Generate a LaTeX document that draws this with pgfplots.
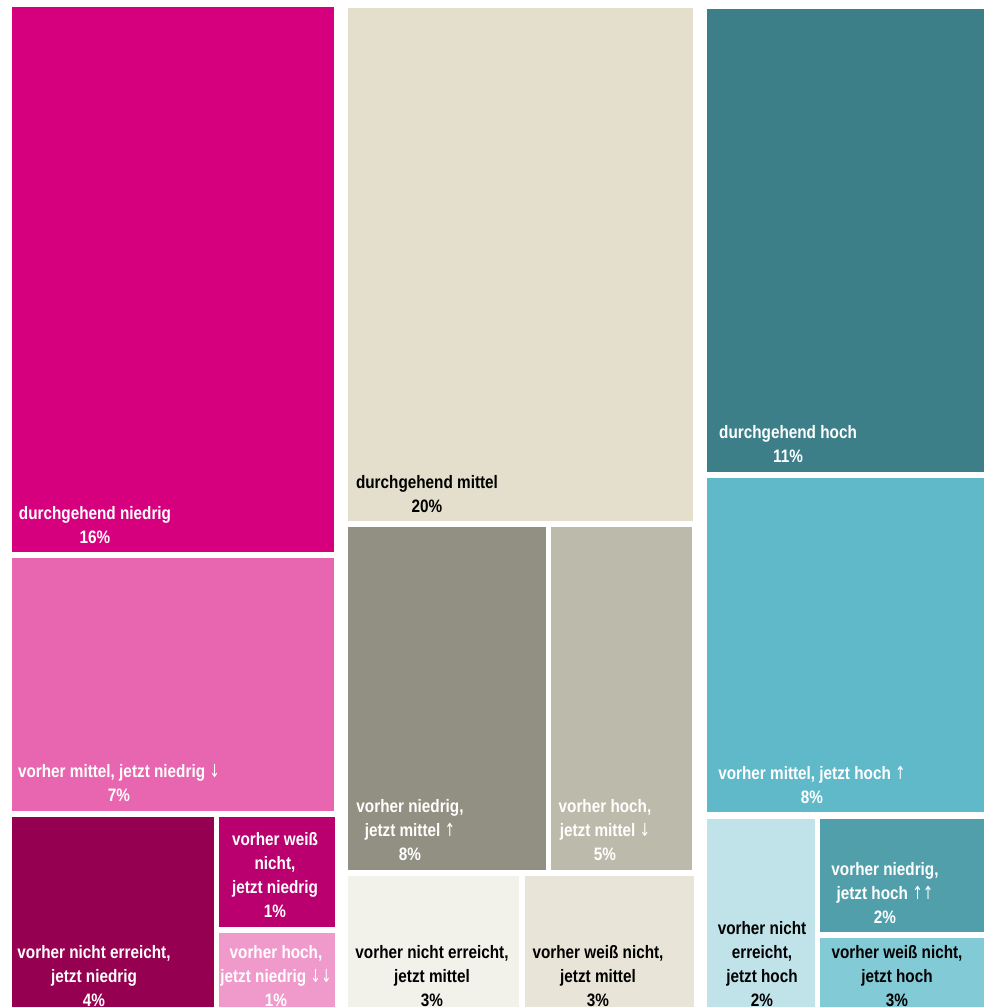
\documentclass[border=0pt]{standalone}
\usepackage{fontspec}
\setmainfont{Liberation Sans}[FakeStretch=0.85]
\newfontfamily\arrfont{DejaVu Sans}[FakeStretch=0.7]
\newcommand{\up}{{\arrfont\mdseries ↑}}
\newcommand{\dn}{{\arrfont\mdseries ↓}}
\usepackage{pgfplots}
\pgfplotsset{compat=1.18}

% treemap tile colours
\definecolor{dn}{RGB}{214,0,126}
\definecolor{mn}{RGB}{232,102,175}
\definecolor{nen}{RGB}{150,0,80}
\definecolor{wnn}{RGB}{185,0,110}
\definecolor{hn}{RGB}{239,154,203}
\definecolor{dm}{RGB}{228,223,204}
\definecolor{nm}{RGB}{146,144,130}
\definecolor{hm}{RGB}{188,186,171}
\definecolor{nem}{RGB}{242,241,234}
\definecolor{wnm}{RGB}{232,229,216}
\definecolor{dh}{RGB}{61,127,137}
\definecolor{mh}{RGB}{95,185,201}
\definecolor{neh}{RGB}{192,227,234}
\definecolor{nh}{RGB}{81,159,170}
\definecolor{wnh}{RGB}{130,202,214}

\tikzset{lbl/.style={font=\bfseries\fontsize{9}{12}\selectfont, align=center, anchor=center, inner sep=0pt}}

\begin{document}
\begin{tikzpicture}
  \begin{axis}[
      scale only axis,
      width=492pt, height=503.5pt,
      xmin=0, xmax=984, ymin=0, ymax=1007,
      y dir=reverse,
      hide axis,
      clip=true,
      every axis plot/.append style={draw=none}
    ]
    % column "niedrig"
    \addplot[fill=dn] coordinates {(12,7) (334,7) (334,552) (12,552)} -- cycle;
    \addplot[fill=mn] coordinates {(12,558) (334,558) (334,811) (12,811)} -- cycle;
    \addplot[fill=nen] coordinates {(12,817) (214,817) (214,1007) (12,1007)} -- cycle;
    \addplot[fill=wnn] coordinates {(219,817) (335,817) (335,927) (219,927)} -- cycle;
    \addplot[fill=hn] coordinates {(219,933) (335,933) (335,1007) (219,1007)} -- cycle;
    % column "mittel"
    \addplot[fill=dm] coordinates {(348,8) (693,8) (693,521) (348,521)} -- cycle;
    \addplot[fill=nm] coordinates {(348,527) (546,527) (546,870) (348,870)} -- cycle;
    \addplot[fill=hm] coordinates {(551,527) (692,527) (692,870) (551,870)} -- cycle;
    \addplot[fill=nem] coordinates {(348,876) (519,876) (519,1007) (348,1007)} -- cycle;
    \addplot[fill=wnm] coordinates {(525,876) (694,876) (694,1007) (525,1007)} -- cycle;
    % column "hoch"
    \addplot[fill=dh] coordinates {(707,9) (984,9) (984,472) (707,472)} -- cycle;
    \addplot[fill=mh] coordinates {(707,478) (984,478) (984,812) (707,812)} -- cycle;
    \addplot[fill=neh] coordinates {(707,819) (815,819) (815,1007) (707,1007)} -- cycle;
    \addplot[fill=nh] coordinates {(820,819) (984,819) (984,932) (820,932)} -- cycle;
    \addplot[fill=wnh] coordinates {(820,938) (984,938) (984,1007) (820,1007)} -- cycle;

    \node[lbl, white] at (axis cs:95,525) {durchgehend niedrig\\16\%};
    \node[lbl, white] at (axis cs:119,783) {vorher mittel, jetzt niedrig \dn\\7\%};
    \node[lbl, white] at (axis cs:94,976) {vorher nicht erreicht,\\jetzt niedrig\\4\%};
    \node[lbl, white] at (axis cs:275,875) {vorher weiß\\nicht,\\jetzt niedrig\\1\%};
    \node[lbl, white] at (axis cs:276,976) {vorher hoch,\\jetzt niedrig \dn\dn\\1\%};

    \node[lbl, black] at (axis cs:427,494) {durchgehend mittel\\20\%};
    \node[lbl, white] at (axis cs:410,830) {vorher niedrig,\\jetzt mittel \up\\8\%};
    \node[lbl, white] at (axis cs:605,830) {vorher hoch,\\jetzt mittel \dn\\5\%};
    \node[lbl, black] at (axis cs:432,976) {vorher nicht erreicht,\\jetzt mittel\\3\%};
    \node[lbl, black] at (axis cs:598,976) {vorher weiß nicht,\\jetzt mittel\\3\%};

    \node[lbl, white] at (axis cs:788,444) {durchgehend hoch\\11\%};
    \node[lbl, white] at (axis cs:812,785) {vorher mittel, jetzt hoch \up\\8\%};
    \node[lbl, black] at (axis cs:762,964) {vorher nicht\\erreicht,\\jetzt hoch\\2\%};
    \node[lbl, white] at (axis cs:885,893) {vorher niedrig,\\jetzt hoch \up\up\\2\%};
    \node[lbl, black] at (axis cs:897,976) {vorher weiß nicht,\\jetzt hoch\\3\%};

    \coordinate (ll) at (rel axis cs:0,0);
    \coordinate (ur) at (rel axis cs:1,1);
  \end{axis}
  \pgfresetboundingbox
  \path[use as bounding box] (ll) rectangle (ur);
\end{tikzpicture}
\end{document}
